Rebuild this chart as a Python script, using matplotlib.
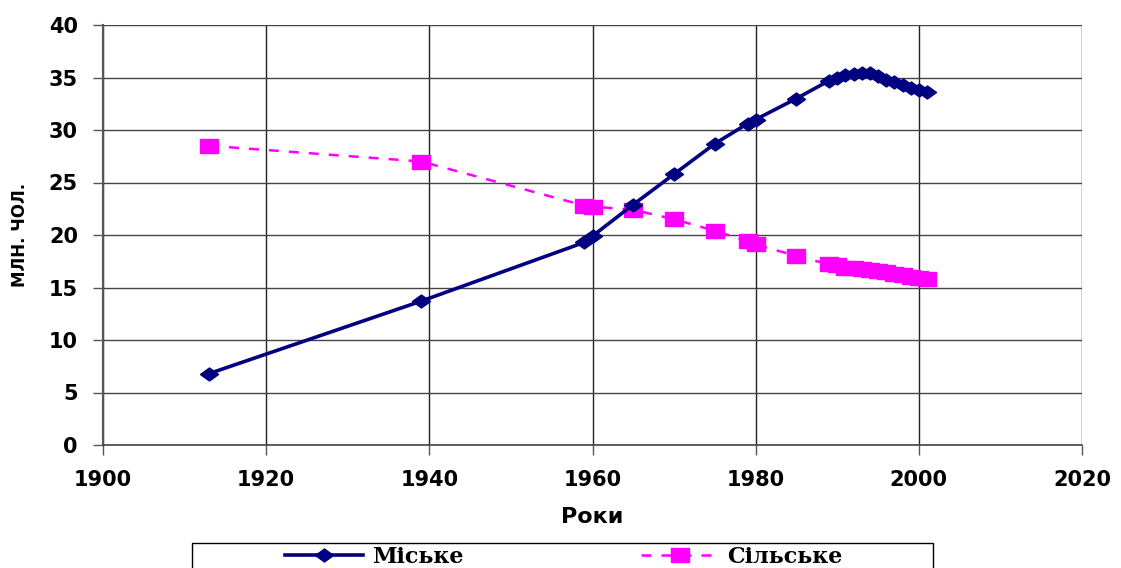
import matplotlib
matplotlib.use('Agg')
import matplotlib.pyplot as plt
from matplotlib.patches import Rectangle

# population of Ukraine, mln people
years_urban = [1913, 1939, 1959, 1960, 1965, 1970, 1975, 1979, 1980, 1985,
               1989, 1990, 1991, 1992, 1993, 1994, 1995, 1996, 1997, 1998,
               1999, 2000, 2001]
urban = [6.8, 13.7, 19.3, 19.9, 22.9, 25.8, 28.7, 30.6, 31.0, 33.0,
         34.7, 35.0, 35.2, 35.3, 35.4, 35.4, 35.1, 34.8, 34.6, 34.3,
         34.0, 33.8, 33.6]

years_rural = [1913, 1939, 1959, 1960, 1965, 1970, 1975, 1979, 1980, 1985,
               1989, 1990, 1991, 1992, 1993, 1994, 1995, 1996, 1997, 1998,
               1999, 2000, 2001]
rural = [28.5, 27.0, 22.8, 22.7, 22.4, 21.5, 20.4, 19.4, 19.1, 18.0,
         17.2, 17.1, 16.9, 16.9, 16.8, 16.7, 16.6, 16.5, 16.3, 16.2,
         16.0, 15.9, 15.8]

x_ticks = [1900, 1920, 1940, 1960, 1980, 2000, 2020]
y_ticks = [0, 5, 10, 15, 20, 25, 30, 35, 40]

plt.rcParams['font.family'] = ['DejaVu Sans']

# slightly flattened markers, like the stretched excel picture
diamond = [(-1, 0), (0, -0.72), (1, 0), (0, 0.72), (-1, 0)]
rect = [(-1, -0.75), (1, -0.75), (1, 0.75), (-1, 0.75), (-1, -0.75)]

W, H = 1121, 568
fig = plt.figure(figsize=(W / 100, H / 100), dpi=100)
ax = fig.add_axes([103 / W, 1 - 445 / H, 979 / W, 420 / H])

ax.plot(years_rural, rural, color='#ff00ff', lw=1.8, ls=(0, (4, 4)),
        marker=rect, ms=12.5, mec='#ff00ff', label='Сільське', zorder=3)
ax.plot(years_urban, urban, color='#000080', lw=2.6,
        marker=diamond, ms=13, mec='#000080', label='Міське', zorder=4)

ax.set_xlim(1900, 2020)
ax.set_ylim(0, 40)
ax.set_xticks(x_ticks)
ax.set_yticks(y_ticks)
for lbl in ax.get_xticklabels() + ax.get_yticklabels():
    lbl.set_fontweight('bold')
    lbl.set_fontsize(15)
ax.tick_params(axis='both', direction='out', length=7, width=1, color='#555555')
ax.tick_params(axis='x', pad=11)
ax.tick_params(axis='y', pad=11)

ax.yaxis.grid(True, color='#444444', lw=1)
ax.xaxis.grid(True, color='#222222', lw=1)
ax.set_axisbelow(True)
for side in ['top', 'right']:
    ax.spines[side].set_visible(False)
ax.spines['left'].set_color('#555555')
ax.spines['left'].set_linewidth(1.5)
ax.spines['bottom'].set_color('#444444')
ax.spines['bottom'].set_linewidth(1.2)

ax.set_xlabel('Роки', fontsize=16, fontweight='bold', labelpad=12)
ax.set_ylabel('МЛН. ЧОЛ.', fontsize=12, fontweight='bold', labelpad=14)

# legend box (frame drawn separately, Excel style)
fig.patches.append(Rectangle((192 / W, 1 - 600 / H), 741 / W, 57 / H,
                             transform=fig.transFigure, fill=False,
                             edgecolor='black', lw=1))
h, l = ax.get_legend_handles_labels()
leg = fig.legend(h[::-1], l[::-1], loc='upper left', bbox_to_anchor=(285 / W, 1 - 546 / H),
                 ncol=2, frameon=False, borderpad=0, borderaxespad=0,
                 handlelength=3.5, handletextpad=0.4, columnspacing=8.0,
                 prop={'family': 'DejaVu Serif', 'weight': 'bold', 'size': 16})

fig.savefig('out.png', dpi=100)
